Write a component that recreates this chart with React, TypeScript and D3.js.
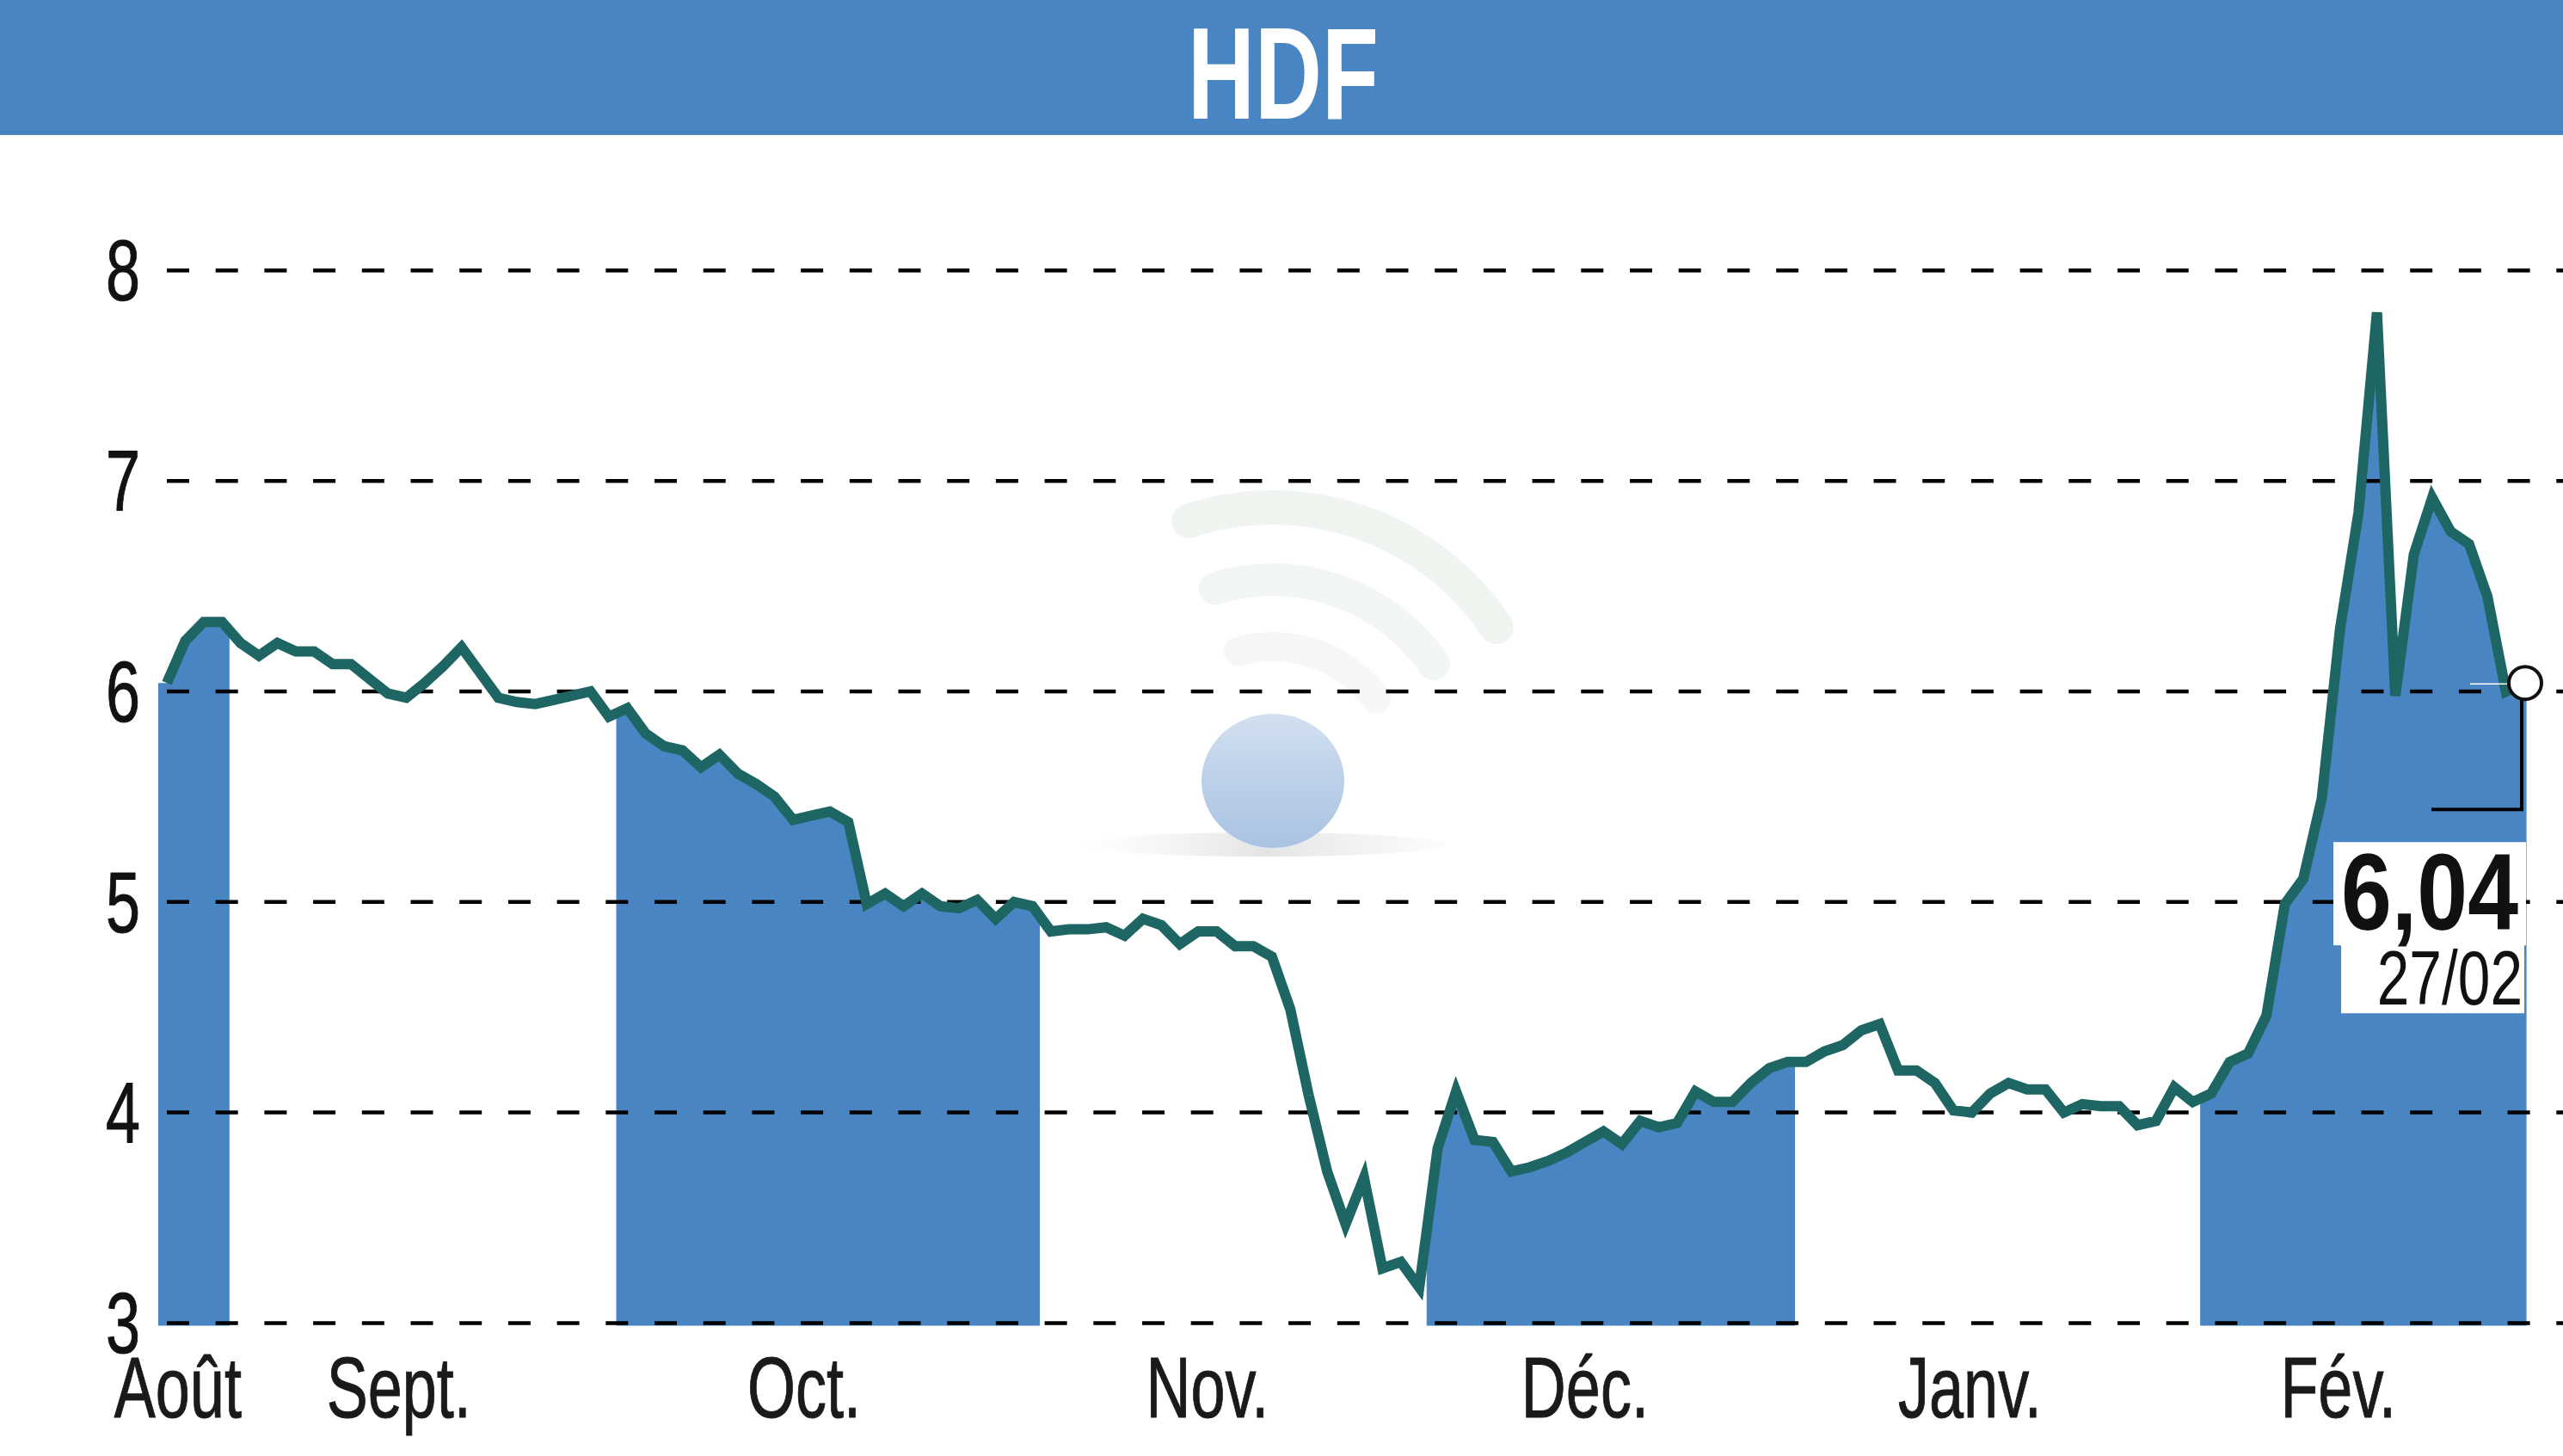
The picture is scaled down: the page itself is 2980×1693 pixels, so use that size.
import React from "react";
import * as d3 from "d3";

const W = 2980;
const H = 1693;
const title = "HDF";

// daily closing prices, Aug 28 -> Feb 27
const values: number[] = [
  6.04, 6.24, 6.33, 6.33, 6.23, 6.17, 6.23, 6.19, 6.19, 6.13,
  6.13, 6.06, 5.99, 5.97, 6.04, 6.12, 6.21, 6.09, 5.97, 5.95,
  5.94, 5.96, 5.98, 6.0, 5.88, 5.92, 5.8, 5.74, 5.72, 5.64,
  5.7, 5.61, 5.56, 5.5, 5.39, 5.41, 5.43, 5.38, 4.99, 5.04,
  4.98, 5.04, 4.98, 4.97, 5.01, 4.92, 5.0, 4.98, 4.86, 4.87,
  4.87, 4.88, 4.84, 4.92, 4.89, 4.8, 4.86, 4.86, 4.79, 4.79,
  4.74, 4.49, 4.08, 3.72, 3.47, 3.69, 3.26, 3.29, 3.17, 3.83,
  4.1, 3.87, 3.86, 3.72, 3.74, 3.77, 3.81, 3.86, 3.91, 3.85,
  3.96, 3.93, 3.95, 4.1, 4.05, 4.05, 4.14, 4.21, 4.24, 4.24,
  4.29, 4.32, 4.39, 4.42, 4.2, 4.2, 4.14, 4.01, 4.0, 4.09,
  4.14, 4.11, 4.11, 4.0, 4.04, 4.03, 4.03, 3.94, 3.96, 4.12,
  4.05, 4.09, 4.24, 4.28, 4.46, 4.99, 5.11, 5.49, 6.3, 6.85,
  7.8, 5.98, 6.65, 6.92, 6.76, 6.7, 6.45, 6.0, 6.04,
];

const monthNames = ["Août", "Sept.", "Oct.", "Nov.", "Déc.", "Janv.", "Fév."];
const monthStartIdx = [0, 4, 25, 48, 69, 89, 111];
const monthLabelIdx = [0.6, 12.6, 34.6, 56.5, 77, 97.9, 117.9];
const yTicks = [3, 4, 5, 6, 7, 8];
const lastValueLabel = "6,04";
const lastDateLabel = "27/02";

const BLUE = "#4a85c3";
const LINE = "#1e6663";
const FONT = "'Liberation Sans', Arial, sans-serif";

export default function App() {
  const n = values.length;
  const x = d3.scaleLinear().domain([0, n - 1]).range([194, 2935]);
  const y = d3.scaleLinear().domain([3, 8]).range([1538.4, 314.4]);

  const pts: [number, number][] = values.map((v, i) => [i, v]);
  const lineGen = d3
    .line<[number, number]>()
    .x((d) => x(d[0]))
    .y((d) => y(d[1]));
  const fillPts: [number, number][] = [
    [-0.5, values[0]],
    ...pts,
    [n - 1 + 0.2, values[n - 1]],
  ];
  const areaGen = d3
    .area<[number, number]>()
    .x((d) => x(d[0]))
    .y0(y(3) + 3)
    .y1((d) => y(d[1]));

  const edges = monthStartIdx
    .map((s, k) => (k === 0 ? -0.47 : s - 0.6))
    .concat([n - 1 + 0.12]);
  const shaded = monthNames.map((_, k) => k).filter((k) => k % 2 === 0);

  const lastX = x(n - 1);
  const lastY = y(values[n - 1]);

  // watermark
  const wmCx = 1480;
  const wmCy = 902;
  const deg = Math.PI / 180;
  const arcs = [
    { r: 312, w: 40 },
    { r: 228, w: 38 },
    { r: 150, w: 34 },
  ].map((a) =>
    d3
      .arc()
      .innerRadius(a.r - a.w / 2)
      .outerRadius(a.r + a.w / 2)
      .startAngle(-22 * deg)
      .endAngle(60 * deg)
      .cornerRadius(a.w / 2)({} as any)
  );

  return (
    <svg
      width={W}
      height={H}
      viewBox={`0 0 ${W} ${H}`}
      style={{ position: "absolute", left: 0, top: 0, background: "#fff" }}
    >
      <defs>
        {shaded.map((k) => (
          <clipPath id={`band${k}`} key={k}>
            <rect
              x={x(edges[k])}
              y={0}
              width={x(edges[k + 1]) - x(edges[k])}
              height={H}
            />
          </clipPath>
        ))}
        <linearGradient id="sphere" x1="0" y1="0" x2="0" y2="1">
          <stop offset="0" stopColor="#d3e0f0" />
          <stop offset="0.5" stopColor="#bcd0e9" />
          <stop offset="1" stopColor="#aac3e3" />
        </linearGradient>
        <linearGradient id="swoosh" x1="0" y1="0" x2="1" y2="0">
          <stop offset="0" stopColor="#eeeeee" stopOpacity="0" />
          <stop offset="0.5" stopColor="#e4e4e4" />
          <stop offset="1" stopColor="#eeeeee" stopOpacity="0.2" />
        </linearGradient>
        <linearGradient
          id="arcfade"
          gradientUnits="userSpaceOnUse"
          x1={wmCx - 140}
          y1={0}
          x2={wmCx + 290}
          y2={0}
        >
          <stop offset="0" stopColor="#eef3ee" />
          <stop offset="0.45" stopColor="#e3e9e2" />
          <stop offset="1" stopColor="#dcdfdc" />
        </linearGradient>
      </defs>
      <rect x={0} y={0} width={W} height={H} fill="#fff" />

      {/* header */}
      <rect x={0} y={0} width={W} height={157} fill={BLUE} />
      <rect x={0} y={152} width={W} height={2} fill="#4580be" />
      <text
        transform={`translate(1492,138) scale(0.71,1)`}
        textAnchor="middle"
        fontFamily={FONT}
        fontWeight="bold"
        fontSize={152}
        fill="#fff"
      >
        {title}
      </text>

      {/* watermark */}
      <g>
        <ellipse cx={1470} cy={982} rx={210} ry={14} fill="url(#swoosh)" />
        {arcs.map((p, i) => (
          <path
            key={i}
            d={p || ""}
            transform={`translate(${wmCx},${wmCy})`}
            fill="url(#arcfade)"
            opacity={0.85 - i * 0.12}
          />
        ))}
        <ellipse cx={1480} cy={908} rx={83} ry={78} fill="url(#sphere)" />
      </g>

      {/* shaded month areas */}
      {shaded.map((k) => (
        <path
          key={k}
          d={areaGen(fillPts) || ""}
          fill={BLUE}
          clipPath={`url(#band${k})`}
        />
      ))}

      {/* gridlines */}
      {yTicks.map((t) => (
        <line
          key={t}
          x1={194}
          x2={W}
          y1={y(t)}
          y2={y(t)}
          stroke="#000"
          strokeWidth={4.5}
          strokeDasharray="26 30.7"
        />
      ))}

      {/* y labels */}
      {yTicks.map((t) => (
        <text
          key={t}
          transform={`translate(163,${y(t) + 35}) scale(0.72,1)`}
          textAnchor="end"
          fontFamily={FONT}
          fontSize={100}
          fill="#111"
          stroke="#111"
          strokeWidth={1}
        >
          {t}
        </text>
      ))}

      {/* x labels */}
      {monthNames.map((m, k) => (
        <text
          key={m}
          transform={`translate(${x(monthLabelIdx[k])},1648) scale(0.72,1)`}
          textAnchor="middle"
          fontFamily={FONT}
          fontSize={100}
          fill="#1a1a1a"
          stroke="#1a1a1a"
          strokeWidth={1}
        >
          {m}
        </text>
      ))}

      {/* price line */}
      <path
        d={lineGen(pts) || ""}
        fill="none"
        stroke={LINE}
        strokeWidth={12}
        strokeLinejoin="miter"
      />

      {/* last value callout */}
      <line
        x1={lastX - 63}
        x2={lastX}
        y1={lastY + 1}
        y2={lastY + 1}
        stroke="#fff"
        strokeWidth={1.5}
      />
      <polyline
        points={`${lastX - 3},${lastY + 18} ${lastX - 3},${lastY + 147} ${lastX - 108},${lastY + 147}`}
        fill="none"
        stroke="#000"
        strokeWidth={4}
      />
      <circle cx={lastX + 1} cy={lastY} r={19} fill="#fff" stroke="#111" strokeWidth={4} />
      <rect x={lastX - 222} y={lastY + 185} width={224} height={120} fill="#fff" />
      <rect x={lastX - 213} y={lastY + 302} width={213} height={82} fill="#fff" />
      <text
        transform={`translate(${lastX - 7},${lastY + 287}) scale(0.84,1)`}
        textAnchor="end"
        fontFamily={FONT}
        fontWeight="bold"
        fontSize={126}
        fill="#111"
      >
        {lastValueLabel}
      </text>
      <text
        transform={`translate(${lastX - 2},${lastY + 374}) scale(0.76,1)`}
        textAnchor="end"
        fontFamily={FONT}
        fontSize={89}
        fill="#111"
      >
        {lastDateLabel}
      </text>
    </svg>
  );
}
